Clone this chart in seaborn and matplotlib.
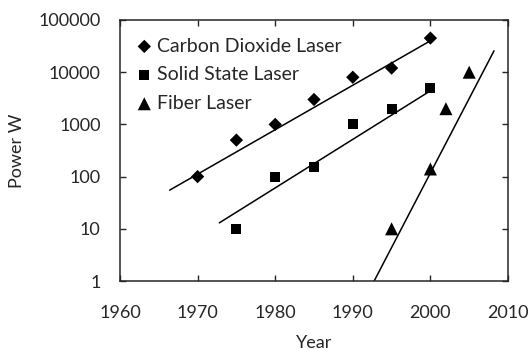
import seaborn as sns
import matplotlib.pyplot as plt
import matplotlib.ticker as mticker
import pandas as pd

# data
co2_years = [1970, 1975, 1980, 1985, 1990, 1995, 2000]
co2_power = [100, 500, 1000, 3000, 8000, 12000, 45000]

solid_years = [1975, 1980, 1985, 1990, 1995, 2000]
solid_power = [10, 100, 150, 1000, 2000, 5000]

fiber_years = [1995, 2000, 2002, 2005]
fiber_power = [10, 140, 2000, 10000]

# trend lines (start / end as drawn in the reference)
co2_trend_years = [1966.4, 2000]
co2_trend_power = [55, 40000]
solid_trend_years = [1972.8, 2000]
solid_trend_power = [13, 4400]
fiber_trend_years = [1992.75, 2008.2]
fiber_trend_power = [1, 25700]

x_ticks = [1960, 1970, 1980, 1990, 2000, 2010]
y_ticks = [1, 10, 100, 1000, 10000, 100000]

sns.set_style('ticks')
plt.rcParams['font.family'] = ['Lato', 'DejaVu Sans']
txt = '#262626'

fig = plt.figure(figsize=(5.3, 3.49), dpi=100)
ax = fig.add_axes([0.2264, 0.1948, 0.7321, 0.7479])

series = [
    ('Carbon Dioxide Laser', co2_years, co2_power, 'D', 46, co2_trend_years, co2_trend_power),
    ('Solid State Laser', solid_years, solid_power, 's', 52, solid_trend_years, solid_trend_power),
    ('Fiber Laser', fiber_years, fiber_power, '^', 88, fiber_trend_years, fiber_trend_power),
]

for name, xs, ys, mk, size, tx, ty in series:
    df = pd.DataFrame({'Year': xs, 'Power': ys})
    sns.scatterplot(data=df, x='Year', y='Power', marker=mk, s=size, color='black',
                    edgecolor='none', label=name, ax=ax, zorder=3)
    tr = pd.DataFrame({'Year': tx, 'Power': ty})
    sns.lineplot(data=tr, x='Year', y='Power', color='black', linewidth=1.1, ax=ax,
                 legend=False, zorder=2)

ax.set_yscale('log')
ax.set_xlim(1960, 2010)
ax.set_ylim(1, 100000)
ax.set_xticks(x_ticks)
ax.set_yticks(y_ticks)
ax.yaxis.set_major_formatter(mticker.FuncFormatter(lambda v, p: f'{int(round(v))}'))
ax.yaxis.set_minor_locator(mticker.NullLocator())

ax.tick_params(direction='in', length=4.5, width=1, labelsize=13, colors=txt,
               top=True, right=True, pad=14)
ax.tick_params(axis='x', pad=17)
for sp in ax.spines.values():
    sp.set_linewidth(1.1)
    sp.set_color(txt)

ax.set_xlabel('Year', fontsize=13, color=txt)
ax.set_ylabel('Power W', fontsize=13, color=txt)
ax.xaxis.set_label_coords(0.5, -0.205)
ax.yaxis.set_label_coords(-0.245, 0.5)

leg = ax.legend(loc='upper left', frameon=False, fontsize=14, handletextpad=0.1,
                borderaxespad=0.3, labelspacing=0.6, handlelength=1.1,
                bbox_to_anchor=(0.0, 0.985))
for t in leg.get_texts():
    t.set_color(txt)

fig.savefig('out.png', dpi=100)
